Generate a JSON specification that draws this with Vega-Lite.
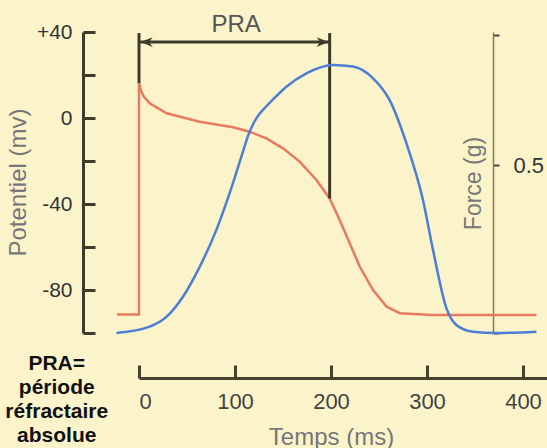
{
  "$schema": "https://vega.github.io/schema/vega-lite/v6.json",
  "width": 408,
  "height": 301,
  "autosize": {"type": "none"},
  "padding": {"left": 139, "top": 32, "right": 0, "bottom": 115},
  "background": "#FBF4CB",
  "config": {"view": {"stroke": null}, "font": "Liberation Sans"},
  "datasets": {
    "potentiel": [
      {"i":0,"t":-23,"v":-91.4},{"i":1,"t":0,"v":-91.4},{"i":2,"t":0,"v":16.2},
      {"i":3,"t":2.0,"v":12.8},{"i":4,"t":5.0,"v":10.0},{"i":5,"t":11.1,"v":6.8},{"i":6,"t":28.8,"v":2.2},
      {"i":7,"t":63.2,"v":-1.7},{"i":8,"t":98,"v":-4.3},{"i":9,"t":115.3,"v":-6.4},
      {"i":10,"t":132.7,"v":-9.5},{"i":11,"t":150,"v":-14.1},{"i":12,"t":167.4,"v":-20.3},
      {"i":13,"t":184.8,"v":-28.8},{"i":14,"t":198.6,"v":-37.4},{"i":15,"t":209,"v":-47.4},
      {"i":16,"t":219.5,"v":-58.3},{"i":17,"t":229.9,"v":-69.1},{"i":18,"t":243.8,"v":-80},
      {"i":19,"t":257.7,"v":-87.7},{"i":20,"t":271.6,"v":-90.8},{"i":21,"t":306,"v":-91.6},
      {"i":22,"t":414,"v":-91.6}
    ],
    "force": [
      {"t":-23.5,"f":0},{"t":11.1,"f":0.019},{"t":28.5,"f":0.048},{"t":45.8,"f":0.108},
      {"t":63.2,"f":0.197},{"t":80.6,"f":0.307},{"t":97.9,"f":0.446},{"t":108.3,"f":0.540},
      {"t":114,"f":0.590},{"t":120,"f":0.628},{"t":126,"f":0.654},{"t":132.7,"f":0.675},
      {"t":143,"f":0.705},{"t":153.5,"f":0.733},{"t":174.4,"f":0.773},
      {"t":202.1,"f":0.798},{"t":222.9,"f":0.793},{"t":243.8,"f":0.758},{"t":261.1,"f":0.693},
      {"t":278.5,"f":0.565},{"t":295.8,"f":0.396},{"t":306.3,"f":0.247},{"t":320.2,"f":0.074},
      {"t":330.6,"f":0.024},{"t":347.9,"f":0.004},{"t":372.3,"f":0},{"t":414,"f":0.004}
    ],
    "segments": [
      {"t":0,"v":39.5,"t2":0,"v2":16.2},
      {"t":198.6,"v":39.5,"t2":198.6,"v2":-37.4},
      {"t":0,"v":35.3,"t2":198.6,"v2":35.3}
    ],
    "arrowRight": [{"t":191.3,"v":35.3}],
    "arrowLeft": [{"t":8.0,"v":35.3}],
    "praLabel": [{"t":101.2,"v":43.3,"label":"PRA"}],
    "legendNote": [{"t":-85.7,"v":-114.5,"label":"PRA=\npériode\nréfractaire\nabsolue"}]
  },
  "resolve": {"scale": {"y": "independent"}, "axis": {"y": "independent"}},
  "layer": [
    {
      "layer": [
        {
          "data": {"name": "potentiel"},
          "mark": {"type": "line", "color": "#E9795F", "strokeWidth": 2.5},
          "encoding": {
            "x": {"field": "t", "type": "quantitative",
              "scale": {"domain": [0, 425], "nice": false, "zero": false},
              "axis": {"values": [0,100,200,300,400], "offset": 45, "tickSize": -13, "tickWidth": 3,
                "tickColor": "#45412f", "domainColor": "#45412f", "domainWidth": 3,
                "labelFontSize": 22, "labelColor": "#444", "labelPadding": 26, "grid": false,
                "title": "Temps (ms)", "titleFontSize": 24, "titleColor": "#777", "titleFontWeight": "normal",
                "titleX": 192, "titleY": 59, "titleBaseline": "middle", "titleAnchor": null, "titleAlign": "center"}},
            "y": {"field": "v", "type": "quantitative",
              "scale": {"domain": [-100, 40], "nice": false, "zero": false},
              "axis": {"values": [-100,-80,-60,-40,-20,0,20,40], "offset": 56, "tickSize": -12, "tickWidth": 3,
                "tickColor": "#3f3b2c", "domainColor": "#3f3b2c", "domainWidth": 3, "grid": false,
                "labelExpr": "datum.value % 40 == 0 ? (datum.value > 0 ? '+' + datum.value : '' + datum.value) : ''",
                "labelFontSize": 21, "labelColor": "#333", "labelPadding": 23,
                "title": "Potentiel (mv)", "titleFontSize": 24, "titleColor": "#777", "titleFontWeight": "normal",
                "titleAngle": 270, "titleX": -65, "titleY": 150, "titleAlign": "center", "titleBaseline": "middle", "titleAnchor": null}},
            "order": {"field": "i", "type": "quantitative"}
          }
        },
        {
          "data": {"name": "segments"},
          "mark": {"type": "rule", "color": "#3d3a2a", "strokeWidth": 3},
          "encoding": {
            "x": {"field": "t", "type": "quantitative"},
            "x2": {"field": "t2"},
            "y": {"field": "v", "type": "quantitative"},
            "y2": {"field": "v2"}
          }
        },
        {
          "data": {"name": "arrowRight"},
          "mark": {"type": "point", "shape": "M1,0 L-1,-0.8 L-0.4,0 L-1,0.8 Z", "size": 144, "filled": true, "color": "#3d3a2a", "opacity": 1},
          "encoding": {
            "x": {"field": "t", "type": "quantitative"},
            "y": {"field": "v", "type": "quantitative"}
          }
        },
        {
          "data": {"name": "arrowLeft"},
          "mark": {"type": "point", "shape": "M-1,0 L1,-0.8 L0.4,0 L1,0.8 Z", "size": 144, "filled": true, "color": "#3d3a2a", "opacity": 1},
          "encoding": {
            "x": {"field": "t", "type": "quantitative"},
            "y": {"field": "v", "type": "quantitative"}
          }
        },
        {
          "data": {"name": "praLabel"},
          "mark": {"type": "text", "fontSize": 24, "color": "#555", "align": "center", "baseline": "middle"},
          "encoding": {
            "x": {"field": "t", "type": "quantitative"},
            "y": {"field": "v", "type": "quantitative"},
            "text": {"field": "label"}
          }
        },
        {
          "data": {"name": "legendNote"},
          "mark": {"type": "text", "fontSize": 21, "fontWeight": "bold", "color": "#111", "align": "center", "baseline": "middle", "lineBreak": "\n", "lineHeight": 24},
          "encoding": {
            "x": {"field": "t", "type": "quantitative"},
            "y": {"field": "v", "type": "quantitative"},
            "text": {"field": "label"}
          }
        }
      ]
    },
    {
      "data": {"name": "force"},
      "mark": {"type": "line", "color": "#4C7ED6", "strokeWidth": 2.5, "interpolate": "monotone"},
      "encoding": {
        "x": {"field": "t", "type": "quantitative"},
        "y": {"field": "f", "type": "quantitative",
          "scale": {"domain": [0, 0.896], "nice": false, "zero": false},
          "axis": {"orient": "right", "offset": -54, "values": [0, 0.5, 0.887], "tickSize": 6, "tickWidth": 2,
            "tickColor": "#444", "domainColor": "#8a7a52", "domainWidth": 1.5, "grid": false,
            "labelExpr": "datum.value == 0.5 ? '0.5' : ''", "labelFontSize": 22, "labelColor": "#333", "labelPadding": 14,
            "title": "Force (g)", "titleFontSize": 23, "titleColor": "#777", "titleFontWeight": "normal",
            "titleAngle": 270, "titleX": -20, "titleY": 151, "titleAlign": "center", "titleBaseline": "middle", "titleAnchor": null}}
      }
    }
  ]
}
